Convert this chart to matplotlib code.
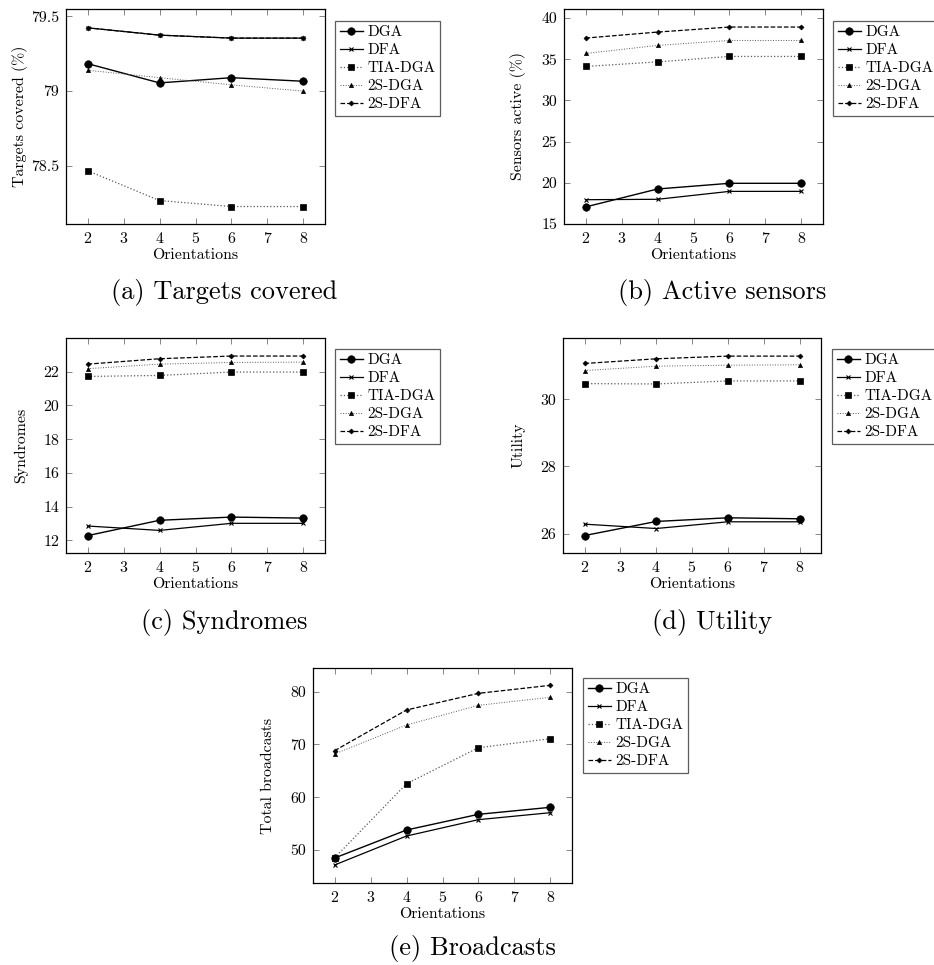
import matplotlib
matplotlib.use("Agg")
import matplotlib.pyplot as plt

# ---- data ----
orient = [2, 4, 6, 8]
series = ["DGA", "DFA", "TIA-DGA", "2S-DGA", "2S-DFA"]

targets_dga = [79.184, 79.055, 79.090, 79.066]
targets_dfa = [79.424, 79.375, 79.355, 79.355]
targets_tia = [78.467, 78.267, 78.227, 78.227]
targets_2sdga = [79.140, 79.090, 79.042, 79.000]
targets_2sdfa = [79.424, 79.375, 79.355, 79.355]

active_dga = [17.07, 19.25, 19.94, 19.94]
active_dfa = [17.95, 18.00, 18.96, 18.96]
active_tia = [34.12, 34.68, 35.34, 35.34]
active_2sdga = [35.70, 36.68, 37.28, 37.28]
active_2sdfa = [37.57, 38.30, 38.91, 38.91]

synd_dga = [12.28, 13.19, 13.38, 13.32]
synd_dfa = [12.85, 12.59, 13.01, 13.01]
synd_tia = [21.72, 21.78, 21.98, 21.98]
synd_2sdga = [22.18, 22.45, 22.55, 22.57]
synd_2sdfa = [22.45, 22.77, 22.93, 22.93]

util_dga = [25.94, 26.36, 26.47, 26.44]
util_dfa = [26.28, 26.15, 26.35, 26.35]
util_tia = [30.47, 30.46, 30.55, 30.55]
util_2sdga = [30.86, 30.99, 31.02, 31.03]
util_2sdfa = [31.07, 31.21, 31.29, 31.29]

bcast_dga = [48.48, 53.79, 56.76, 58.09]
bcast_dfa = [47.16, 52.65, 55.75, 57.07]
bcast_tia = [48.50, 62.56, 69.38, 71.09]
bcast_2sdga = [68.19, 73.68, 77.41, 78.93]
bcast_2sdfa = [68.82, 76.53, 79.68, 81.20]

plt.rcParams['font.family'] = ['cmr10', 'DejaVu Serif']
plt.rcParams['axes.formatter.use_mathtext'] = True
plt.rcParams['axes.unicode_minus'] = False

W, H = 934, 965
fig = plt.figure(figsize=(W / 100, H / 100), dpi=100)

# style per series: (linestyle, marker, markersize, color, linewidth)
styles = {
    "DGA":     ('-',  'o', 5.4, 'black', 1.0),
    "DFA":     ('-',  'x', 3.0, 'black', 0.9),
    "TIA-DGA": (':',  's', 4.5, '0.35',  0.9),
    "2S-DGA":  (':',  '^', 3.0, '0.35',  0.7),
    "2S-DFA":  ('--', 'D', 2.5, 'black', 0.9),
}


def px_axes(l, t, r, b):
    return fig.add_axes([l / W, 1 - b / H, (r - l) / W, (b - t) / H])


def panel(box, data, ylim, yticks, ylabel, legend_xy, caption, cap_xy):
    ax = px_axes(*box)
    for name, vals in zip(series, data):
        ls, mk, ms, col, lw = styles[name]
        ax.plot(orient, vals, linestyle=ls, marker=mk, markersize=ms, color=col,
                markerfacecolor='black', markeredgecolor='black', linewidth=lw,
                markeredgewidth=0.8 if mk == 'x' else 0.5, label=name)
    ax.set_xlim(1.4, 8.6)
    ax.set_ylim(*ylim)
    ax.set_xticks(range(2, 9))
    ax.set_yticks(yticks)
    ax.set_yticklabels([f"{v:g}" for v in yticks])
    ax.tick_params(direction='in', top=True, right=True, labelsize=11.4,
                   length=4, width=0.6, color='0.45', pad=5)
    for s in ax.spines.values():
        s.set_linewidth(0.9)
    ax.set_xlabel("Orientations", fontsize=11.4)
    ax.xaxis.set_label_coords(0.5, -0.115)
    ax.set_ylabel(ylabel, fontsize=11.4)
    ax.yaxis.set_label_coords(-0.146, 0.5)
    leg = ax.legend(loc='upper left', fontsize=11, frameon=True, fancybox=False,
                    bbox_to_anchor=(legend_xy[0] / W, 1 - legend_xy[1] / H),
                    bbox_transform=fig.transFigure, handlelength=1.5,
                    handletextpad=0.3, labelspacing=0.28, borderpad=0.3,
                    borderaxespad=0)
    leg.get_frame().set_edgecolor('0.2')
    leg.get_frame().set_linewidth(0.9)
    fig.text(cap_xy[0] / W, 1 - cap_xy[1] / H, caption, fontsize=19,
             ha='center', va='center')
    return ax


panel((66, 9, 325, 224),
      [targets_dga, targets_dfa, targets_tia, targets_2sdga, targets_2sdfa],
      (78.11, 79.55), [78.5, 79, 79.5], "Targets covered (%)",
      (335, 21), "(a) Targets covered", (224, 292))

panel((564, 9, 823, 224),
      [active_dga, active_dfa, active_tia, active_2sdga, active_2sdfa],
      (15, 41.1), [15, 20, 25, 30, 35, 40], "Sensors active (%)",
      (833, 21), "(b) Active sensors", (722, 292))

panel((66, 338, 325, 553),
      [synd_dga, synd_dfa, synd_tia, synd_2sdga, synd_2sdfa],
      (11.25, 24.0), [12, 14, 16, 18, 20, 22], "Syndromes",
      (335, 349), "(c) Syndromes", (224, 622))

panel((563, 338, 821, 553),
      [util_dga, util_dfa, util_tia, util_2sdga, util_2sdfa],
      (25.42, 31.83), [26, 28, 30], "Utility",
      (832, 349), "(d) Utility", (712, 622))

panel((313, 668, 572, 883),
      [bcast_dga, bcast_dfa, bcast_tia, bcast_2sdga, bcast_2sdfa],
      (43.75, 84.48), [50, 60, 70, 80], "Total broadcasts",
      (583, 678), "(e) Broadcasts", (472, 948))

fig.savefig("out.png", dpi=100)
